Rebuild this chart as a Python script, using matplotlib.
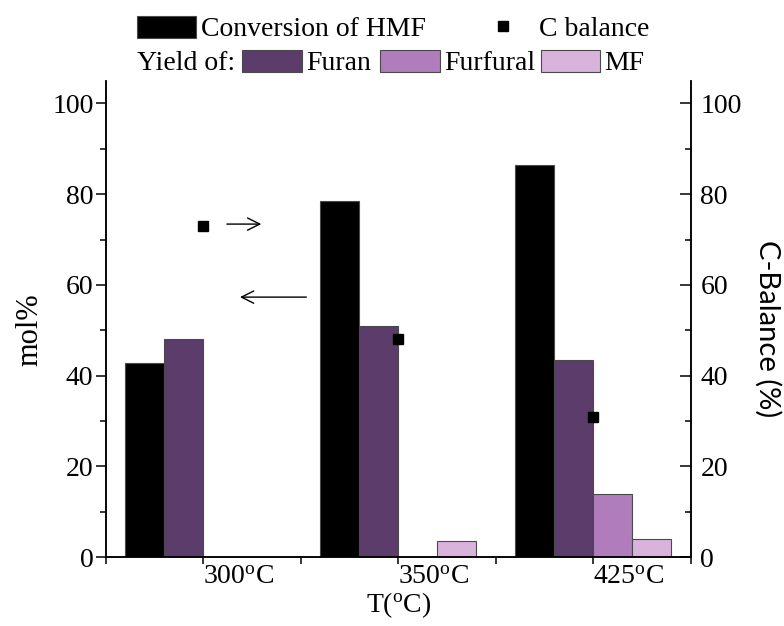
import matplotlib
matplotlib.use("Agg")
import matplotlib.pyplot as plt
from matplotlib.patches import Rectangle
from matplotlib.lines import Line2D
from matplotlib.ticker import FixedLocator
import numpy as np

plt.rcParams["font.family"] = ["Liberation Serif", "DejaVu Serif"]
plt.rcParams["mathtext.fontset"] = "custom"
plt.rcParams["mathtext.rm"] = "Liberation Serif"
plt.rcParams["mathtext.it"] = "Liberation Serif:italic"

temperatures = ["300", "350", "425"]
conversion_hmf = [42.8, 78.5, 86.5]
yield_furan = [48.0, 51.0, 43.4]
yield_furfural = [0.0, 0.0, 14.0]
yield_mf = [0.0, 3.5, 3.9]
c_balance = [73.0, 48.0, 30.9]

col_conv = "#000000"
col_furan = "#5b3c6a"
col_furfural = "#b07cbb"
col_mf = "#dab3dc"
edge = "#4a4a4a"

W, H = 784, 626
fig = plt.figure(figsize=(W / 100, H / 100), dpi=100)
ax = fig.add_axes([0.1352, 0.1102, 0.7458, 0.7608])

def fx(px):
    return px / W
def fy(py):
    return 1 - py / H

x = np.arange(len(temperatures))
w = 0.2
series = [(conversion_hmf, col_conv, -1.5), (yield_furan, col_furan, -0.5),
          (yield_furfural, col_furfural, 0.5), (yield_mf, col_mf, 1.5)]
for vals, col, off in series:
    ax.bar(x + off * w, vals, width=w, color=col, edgecolor=edge, linewidth=0.8, zorder=2)

ax.set_xlim(-0.5, 2.5)
ax.set_ylim(0, 105)

# right axis for the carbon balance
ax2 = ax.twinx()
ax2.set_ylim(0, 105)
ax2.plot(x, c_balance, linestyle="none", marker="s", markersize=6.5, color="black", zorder=3)

for a in (ax, ax2):
    a.spines["top"].set_visible(False)
    for s in a.spines.values():
        s.set_linewidth(1.1)

major = [0, 20, 40, 60, 80, 100]
minor = [10, 30, 50, 70, 90]
for a in (ax, ax2):
    a.yaxis.set_major_locator(FixedLocator(major))
    a.yaxis.set_minor_locator(FixedLocator(minor))

fs = 20
ax.tick_params(axis="y", which="major", direction="out", length=7, width=1.1, labelsize=fs, pad=2)
ax.tick_params(axis="y", which="minor", direction="out", length=4.5, width=1.1)
ax2.tick_params(axis="y", which="major", direction="in", length=8, width=1.1, labelsize=fs, pad=7)
ax2.tick_params(axis="y", which="minor", direction="in", length=4.5, width=1.1)

ax.set_xticks(x)
ax.set_xticklabels([t + r"$^{\mathrm{o}}$C" for t in temperatures], ha="left")
ax.xaxis.set_minor_locator(FixedLocator([-0.5, 0.5, 1.5, 2.5]))
ax.tick_params(axis="x", which="both", direction="out", length=5, width=1.1, labelsize=fs, pad=1)

ax.set_xlabel(r"T($^{\mathrm{o}}$C)", fontsize=fs, labelpad=0)

# axis titles
fig.text(fx(30), fy(330), "mol%", fontsize=22, rotation=90, ha="center", va="center")
fig.text(fx(768), fy(329), "C-Balance (%)", fontsize=21, rotation=270, ha="center",
         va="center", family=["Lato", "DejaVu Sans"])

# arrows pointing each series to its axis
ax.annotate("", xy=(0.311, 73.4), xytext=(0.106, 73.4),
            arrowprops=dict(arrowstyle="->", lw=1.0, color="black", mutation_scale=22))
ax.annotate("", xy=(0.173, 57.3), xytext=(0.542, 57.3),
            arrowprops=dict(arrowstyle="->", lw=1.0, color="black", mutation_scale=22))

# legend drawn above the plot
def key(x0, x1, y0, y1, color):
    fig.add_artist(Rectangle((fx(x0), fy(y1)), fx(x1) - fx(x0), fy(y0) - fy(y1),
                             transform=fig.transFigure, facecolor=color,
                             edgecolor=edge, linewidth=0.8))

key(137, 196, 16, 38, col_conv)
fig.text(fx(201), fy(27), "Conversion of HMF", fontsize=fs, va="center_baseline", ha="left")
fig.add_artist(Line2D([fx(503)], [fy(26)], marker="s", markersize=6.5, color="black",
                      linestyle="none", transform=fig.transFigure))
fig.text(fx(539), fy(27), "C balance", fontsize=fs, va="center_baseline", ha="left")

fig.text(fx(137), fy(61), "Yield of:", fontsize=fs, va="center_baseline", ha="left")
key(242, 302, 50, 72, col_furan)
fig.text(fx(306), fy(61), "Furan", fontsize=fs, va="center_baseline", ha="left")
key(380, 440, 50, 72, col_furfural)
fig.text(fx(444), fy(61), "Furfural", fontsize=fs, va="center_baseline", ha="left")
key(541, 600, 50, 72, col_mf)
fig.text(fx(604), fy(61), "MF", fontsize=fs, va="center_baseline", ha="left")

fig.savefig("out.png", dpi=100)
